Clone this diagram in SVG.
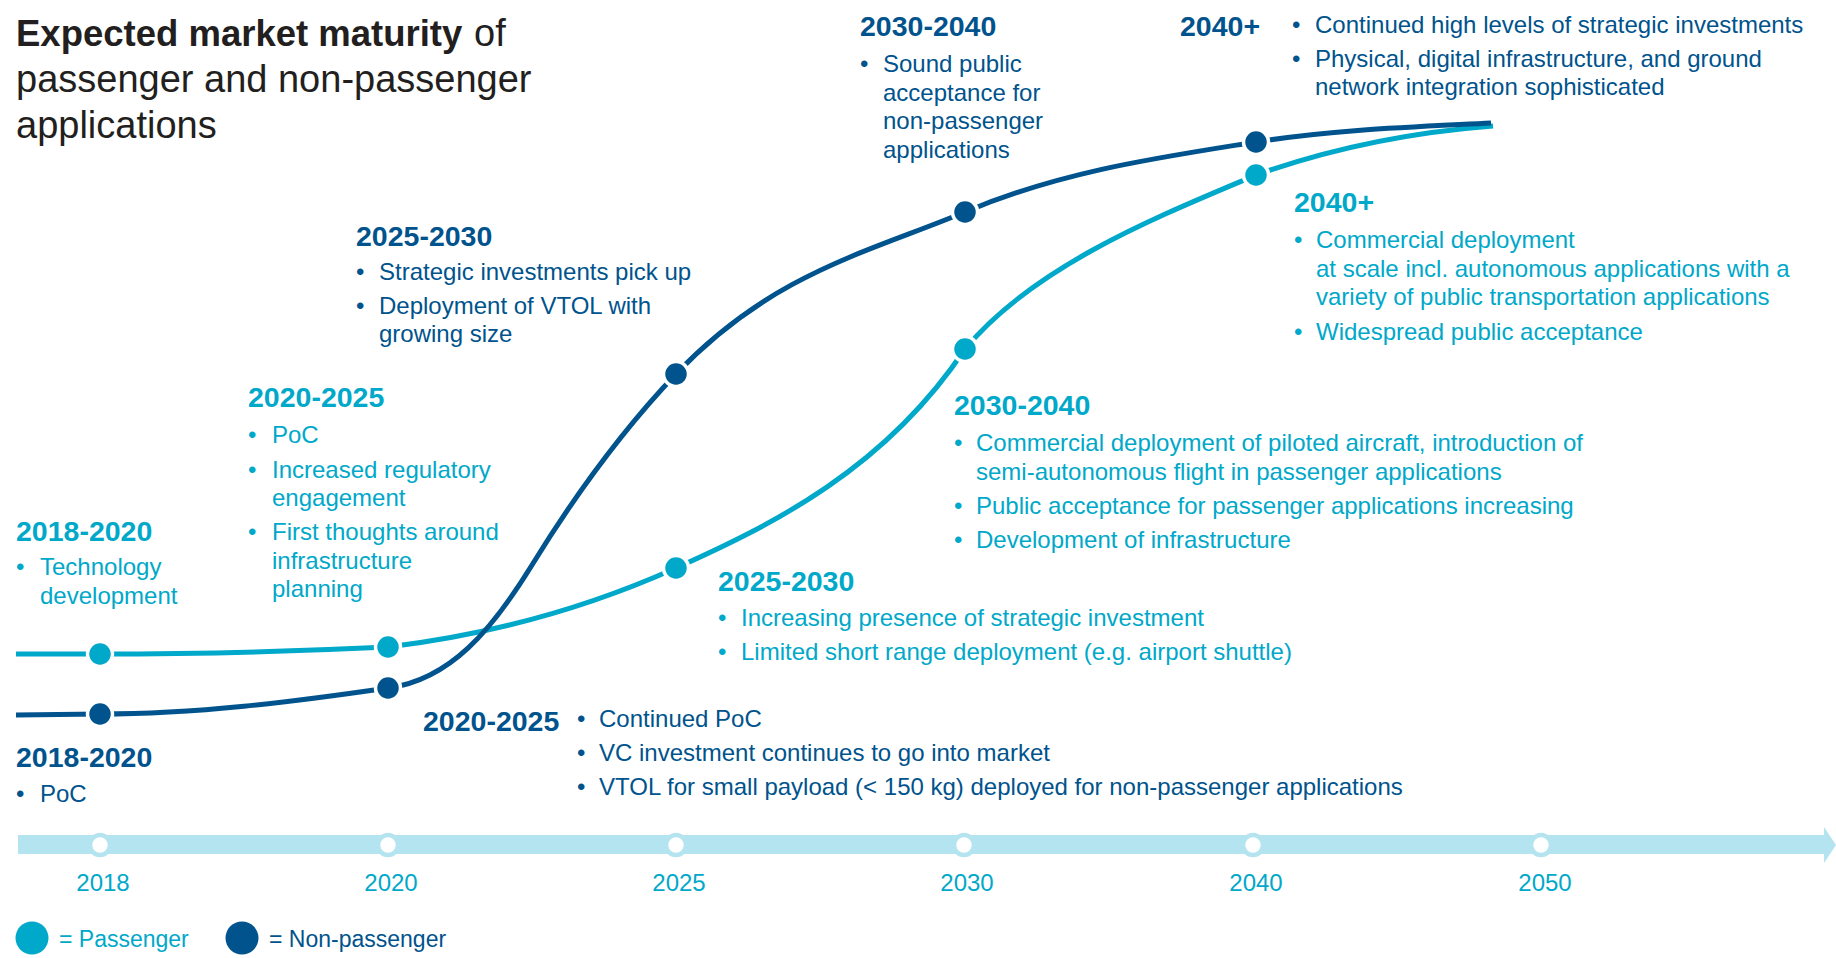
<svg xmlns="http://www.w3.org/2000/svg" width="1836" height="958" viewBox="0 0 1836 958">
<style>
text{font-family:"Liberation Sans",Arial,Helvetica,sans-serif}
.ttl{font-size:38px;fill:#231f20}
.ttb{font-size:36.5px;font-weight:bold;fill:#231f20}
.h{font-size:28.5px;font-weight:bold}
.b{font-size:24px}
.yr{font-size:24px;fill:#00a8c9;text-anchor:middle}
.lg{font-size:23px}
.lt{fill:#00a8c9}
.dk{fill:#00538c}
.cl{fill:none;stroke:#00a8c9;stroke-width:5}
.cd{fill:none;stroke:#00538c;stroke-width:5}
.dl{fill:#00a8c9;stroke:#fff;stroke-width:3.5}
.dd{fill:#00538c;stroke:#fff;stroke-width:3.5}
.tick{fill:#fff;stroke:#b4e4ef;stroke-width:4.5}
</style>
<rect width="1836" height="958" fill="#fff"/>

<g id="title">
<text class="ttb" x="16" y="46">Expected market maturity</text>
<text class="ttl" x="474" y="46">of</text>
<text class="ttl" x="16" y="92">passenger and non-passenger</text>
<text class="ttl" x="16" y="138">applications</text>
</g>

<g id="timeline">
<rect x="18" y="835" width="1808" height="19" fill="#b4e4ef"/>
<polygon points="1824,827 1836,845 1824,863" fill="#b4e4ef"/>
<circle class="tick" cx="100" cy="845" r="10"/>
<circle class="tick" cx="388" cy="845" r="10"/>
<circle class="tick" cx="676" cy="845" r="10"/>
<circle class="tick" cx="964" cy="845" r="10"/>
<circle class="tick" cx="1253" cy="845" r="10"/>
<circle class="tick" cx="1541" cy="845" r="10"/>
<text class="yr" x="103" y="891">2018</text>
<text class="yr" x="391" y="891">2020</text>
<text class="yr" x="679" y="891">2025</text>
<text class="yr" x="967" y="891">2030</text>
<text class="yr" x="1256" y="891">2040</text>
<text class="yr" x="1545" y="891">2050</text>
</g>

<g id="connectors">
<path id="passenger-curve" class="cl" d="M16,654 L100,654 C196,654 292,651.5 388,647 C484,635.5 580,611 676,568 C772,525 885,469 965,349 C1035,265 1159,216 1256,175 C1335,147 1414,132 1493,126"/>
<path id="nonpassenger-curve" class="cd" d="M16,715 L100,714 C196,714 292,702 388,688 C450,680 492,630 532,565 C580,487 628,424.4 676,374 C772,273 869,252 965,212 C1062,171 1159,157.5 1256,142 C1334,129.5 1413,127 1491,123"/>
</g>

<g id="p2018"><circle class="dl" cx="100" cy="654" r="12.5"/></g>
<g id="p2020"><circle class="dl" cx="388" cy="647" r="12.5"/></g>
<g id="p2025"><circle class="dl" cx="676" cy="568" r="12.5"/></g>
<g id="p2030"><circle class="dl" cx="965" cy="349" r="12.5"/></g>
<g id="p2040"><circle class="dl" cx="1256" cy="175" r="12.5"/></g>
<g id="n2018"><circle class="dd" cx="100" cy="714" r="12.5"/></g>
<g id="n2020"><circle class="dd" cx="388" cy="688" r="12.5"/></g>
<g id="n2025"><circle class="dd" cx="676" cy="374" r="12.5"/></g>
<g id="n2030"><circle class="dd" cx="965" cy="212" r="12.5"/></g>
<g id="n2040"><circle class="dd" cx="1256" cy="142" r="12.5"/></g>

<g id="label-p-2018-2020" class="lt">
<text class="h" x="16" y="541">2018-2020</text>
<text class="b" x="16" y="575">•</text>
<text class="b" x="40"><tspan x="40" y="575">Technology</tspan><tspan x="40" y="604">development</tspan></text>
</g>

<g id="label-n-2018-2020" class="dk">
<text class="h" x="16" y="767">2018-2020</text>
<text class="b" x="16" y="802">•</text>
<text class="b" x="40" y="802">PoC</text>
</g>

<g id="label-p-2020-2025" class="lt">
<text class="h" x="248" y="407">2020-2025</text>
<text class="b"><tspan x="248" y="443">•</tspan><tspan x="248" y="478">•</tspan><tspan x="248" y="540">•</tspan></text>
<text class="b"><tspan x="272" y="443">PoC</tspan><tspan x="272" y="478">Increased regulatory</tspan><tspan x="272" y="506">engagement</tspan><tspan x="272" y="540">First thoughts around</tspan><tspan x="272" y="569">infrastructure</tspan><tspan x="272" y="597">planning</tspan></text>
</g>

<g id="label-n-2020-2025" class="dk">
<text class="h" x="423" y="731">2020-2025</text>
<text class="b"><tspan x="577" y="727">•</tspan><tspan x="577" y="761">•</tspan><tspan x="577" y="795">•</tspan></text>
<text class="b"><tspan x="599" y="727">Continued PoC</tspan><tspan x="599" y="761">VC investment continues to go into market</tspan><tspan x="599" y="795">VTOL for small payload (&lt; 150 kg) deployed for non-passenger applications</tspan></text>
</g>

<g id="label-n-2025-2030" class="dk">
<text class="h" x="356" y="246">2025-2030</text>
<text class="b"><tspan x="356" y="280">•</tspan><tspan x="356" y="314">•</tspan></text>
<text class="b"><tspan x="379" y="280">Strategic investments pick up</tspan><tspan x="379" y="314">Deployment of VTOL with</tspan><tspan x="379" y="342">growing size</tspan></text>
</g>

<g id="label-p-2025-2030" class="lt">
<text class="h" x="718" y="591">2025-2030</text>
<text class="b"><tspan x="718" y="626">•</tspan><tspan x="718" y="660">•</tspan></text>
<text class="b"><tspan x="741" y="626">Increasing presence of strategic investment</tspan><tspan x="741" y="660">Limited short range deployment (e.g. airport shuttle)</tspan></text>
</g>

<g id="label-p-2030-2040" class="lt">
<text class="h" x="954" y="415">2030-2040</text>
<text class="b"><tspan x="954" y="451">•</tspan><tspan x="954" y="514">•</tspan><tspan x="954" y="548">•</tspan></text>
<text class="b"><tspan x="976" y="451">Commercial deployment of piloted aircraft, introduction of</tspan><tspan x="976" y="480">semi-autonomous flight in passenger applications</tspan><tspan x="976" y="514">Public acceptance for passenger applications increasing</tspan><tspan x="976" y="548">Development of infrastructure</tspan></text>
</g>

<g id="label-n-2030-2040" class="dk">
<text class="h" x="860" y="36">2030-2040</text>
<text class="b" x="860" y="72">•</text>
<text class="b"><tspan x="883" y="72">Sound public</tspan><tspan x="883" y="100.5">acceptance for</tspan><tspan x="883" y="129">non-passenger</tspan><tspan x="883" y="157.5">applications</tspan></text>
</g>

<g id="label-n-2040" class="dk">
<text class="h" x="1180" y="36">2040+</text>
<text class="b"><tspan x="1292" y="33">•</tspan><tspan x="1292" y="67">•</tspan></text>
<text class="b"><tspan x="1315" y="33">Continued high levels of strategic investments</tspan><tspan x="1315" y="67">Physical, digital infrastructure, and ground</tspan><tspan x="1315" y="95">network integration sophisticated</tspan></text>
</g>

<g id="label-p-2040" class="lt">
<text class="h" x="1294" y="212">2040+</text>
<text class="b"><tspan x="1294" y="248">•</tspan><tspan x="1294" y="340">•</tspan></text>
<text class="b"><tspan x="1316" y="248">Commercial deployment</tspan><tspan x="1316" y="277">at scale incl. autonomous applications with a</tspan><tspan x="1316" y="305">variety of public transportation applications</tspan><tspan x="1316" y="340">Widespread public acceptance</tspan></text>
</g>

<g id="legend">
<circle cx="32" cy="938" r="16.5" fill="#00a8c9"/>
<text class="lg lt" x="59" y="947">= Passenger</text>
<circle cx="242" cy="938" r="16.5" fill="#00538c"/>
<text class="lg dk" x="269" y="947">= Non-passenger</text>
</g>
</svg>
